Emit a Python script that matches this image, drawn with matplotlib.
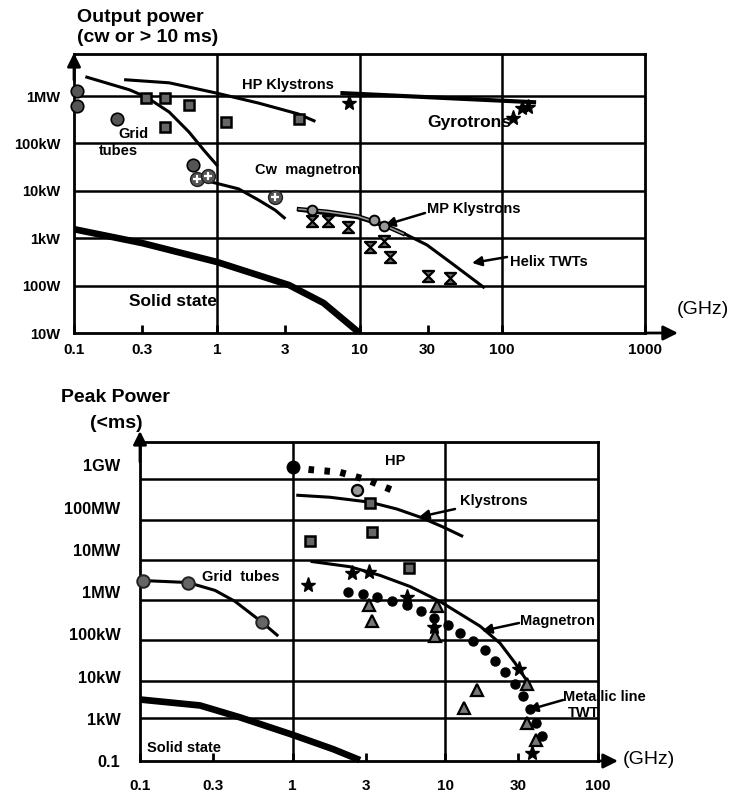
import numpy as np
import matplotlib.pyplot as plt
import matplotlib.ticker as mticker
import matplotlib.patheffects as pe
from matplotlib.path import Path

plt.rcParams['font.family'] = ['Liberation Sans', 'DejaVu Sans']

# ---------- top chart: cw output power (GHz, W) ----------
top_xticks = [0.1, 0.3, 1, 3, 10, 30, 100, 1000]
top_xlabels = ['0.1', '0.3', '1', '3', '10', '30', '100', '1000']
top_yticks = [10, 100, 1e3, 1e4, 1e5, 1e6]
top_ylabels = ['10W', '100W', '1kW', '10kW', '100kW', '1MW']

grid_tube_line_f = [0.123, 0.245, 0.321, 0.464, 0.639, 0.812, 1.0]
grid_tube_line_p = [2.5e6, 1.35e6, 9.5e5, 4.6e5, 1.74e5, 7.2e4, 3.5e4]
grid_tube_pts_f = [0.105, 0.105, 0.199, 0.68]
grid_tube_pts_p = [1.27e6, 6.2e5, 3.3e5, 3.5e4]

hp_kly_line_f = [0.23, 0.464, 1.0, 1.96, 3.71, 4.8]
hp_kly_line_p = [2.2e6, 1.9e6, 1.15e6, 7.1e5, 4.2e5, 3.0e5]
hp_kly_pts_f = [0.32, 0.435, 0.64, 0.435, 1.17, 3.77]
hp_kly_pts_p = [9.1e5, 9.1e5, 6.5e5, 2.2e5, 2.8e5, 3.3e5]

gyro_line_f = [7.6, 167]
gyro_line_p = [1.15e6, 7.4e5]
gyro_pts_f = [8.5, 119, 138, 151]
gyro_pts_p = [7.1e5, 3.5e5, 5.6e5, 5.9e5]

cw_mag_line_f = [0.726, 0.92, 1.42, 1.96, 2.57, 2.97]
cw_mag_line_p = [1.95e4, 1.53e4, 1.1e4, 6.4e3, 3.9e3, 2.7e3]
cw_mag_pts_f = [0.726, 0.866, 2.57]
cw_mag_pts_p = [1.78e4, 2.1e4, 7.4e3]

mp_kly_line_f = [3.77, 6.0, 9.7, 14.5, 20.2]
mp_kly_line_p = [4.1e3, 3.6e3, 2.9e3, 1.95e3, 1.25e3]
mp_kly_pts_f = [4.64, 12.7, 14.9]
mp_kly_pts_p = [3.9e3, 2.4e3, 1.8e3]

helix_line_f = [3.77, 9.7, 18.4, 29.7, 44, 73.8]
helix_line_p = [3.9e3, 2.7e3, 1.48e3, 720, 300, 93]
helix_pts_f = [4.64, 6.0, 8.3, 11.9, 14.9, 16.4, 30.1, 42.8]
helix_pts_p = [2.3e3, 2.3e3, 1.7e3, 650, 870, 400, 160, 145]

solid_top_f = [0.1, 0.3, 1.0, 3.2, 5.6, 10]
solid_top_p = [1.55e3, 790, 316, 103, 43, 10]

# ---------- bottom chart: peak power (GHz, W) ----------
bot_xticks = [0.1, 0.3, 1, 3, 10, 30, 100]
bot_xlabels = ['0.1', '0.3', '1', '3', '10', '30', '100']
bot_yticks = [1e9, 1e8, 1e7, 1e6, 1e5, 1e4, 1e3, 1e2]
bot_ylabels = ['1GW', '100MW', '10MW', '1MW', '100kW', '10kW', '1kW', '0.1']
bot_grid_p = [4.7e8, 5.1e7, 5.9e6, 6.5e5, 7.4e4, 7.9e3, 1.07e3]

hp_line_f = [1.0, 1.30, 2.04, 2.56, 3.16, 3.90, 4.5]
hp_line_p = [9.0e8, 8.0e8, 6.9e8, 5.5e8, 4.4e8, 3.2e8, 2.6e8]
hp_start_f, hp_start_p = [1.0], [9.0e8]
hp_gray_f, hp_gray_p = [2.64], [2.6e8]

kly_line_f = [1.08, 1.75, 3.21, 4.82, 6.82, 9.65, 12.8]
kly_line_p = [1.97e8, 1.77e8, 1.35e8, 9.3e7, 6.0e7, 3.5e7, 2.15e7]
kly_pts_f = [3.21, 3.3, 1.30, 5.78]
kly_pts_p = [1.3e8, 2.7e7, 1.64e7, 3.8e6]

mag_line_f = [1.34, 2.37, 3.73, 5.87, 9.2, 16.9, 22.8, 28.6, 35.5]
mag_line_p = [5.3e6, 4.0e6, 2.5e6, 1.36e6, 6.05e5, 1.56e5, 6.2e4, 2.1e4, 6.5e3]
star_f = [1.26, 2.44, 3.16, 5.6, 8.4, 30.3, 36.9]
star_p = [1.5e6, 2.9e6, 3.06e6, 7.5e5, 1.48e5, 1.53e4, 155]

twt_f = [2.30, 2.89, 3.56, 4.47, 5.6, 6.9, 8.4, 10.4, 12.5, 15.2, 18.2,
         21.1, 24.6, 28.6, 32.2, 35.8, 39.2, 42.9]
twt_p = [9.85e5, 8.8e5, 7.5e5, 6.05e5, 4.9e5, 3.5e5, 2.4e5, 1.65e5, 1.07e5,
         6.95e4, 4.3e4, 2.36e4, 1.3e4, 6.8e3, 3.5e3, 1.66e3, 780, 386]
tri_f = [3.16, 3.31, 8.55, 8.8, 16.1, 13.2, 34.2, 34.2, 39.2]
tri_p = [4.9e5, 2.05e5, 9.1e4, 4.6e5, 4.7e3, 1.76e3, 6.8e3, 780, 311]

grid_line_f = [0.105, 0.206, 0.31, 0.419, 0.63, 0.79]
grid_line_p = [1.88e6, 1.69e6, 1.1e6, 6.05e5, 1.94e5, 9.6e4]
grid_pts_f = [0.105, 0.206, 0.63]
grid_pts_p = [1.88e6, 1.69e6, 1.94e5]

solid_bot_f = [0.1, 0.247, 0.452, 0.975, 1.84, 2.76]
solid_bot_p = [2.86e3, 2.07e3, 1.08e3, 430, 191, 105]

# ---------- layout helpers (pixels of the 730x798 image) ----------
W, H = 730, 798
fig = plt.figure(figsize=(W / 100, H / 100), dpi=100)


def box(l, t, r, b):
    return [l / W, 1 - b / H, (r - l) / W, (b - t) / H]


def fp(x, y):
    return (x / W, 1 - y / H)


def label(x, y, s, size=10.5, ha='left', weight='bold'):
    fig.text(x / W, 1 - y / H, s, ha=ha, va='center', fontsize=size,
             fontweight=weight)


def arrow(ax, x0, y0, x1, y1, lw=1.8, ms=14):
    ax.annotate('', xy=fp(x1, y1), xytext=fp(x0, y0),
                xycoords='figure fraction', textcoords='figure fraction',
                annotation_clip=False,
                arrowprops=dict(arrowstyle='-|>', color='k', lw=lw,
                                mutation_scale=ms, shrinkA=0, shrinkB=0))


def setup(ax, xticks, xlabels, yticks, ylabels, xlim, ylim, ypad, xpad, ysize):
    ax.set_xscale('log')
    ax.set_yscale('log')
    ax.set_xlim(*xlim)
    ax.set_ylim(*ylim)
    ax.set_xticks(xticks)
    ax.set_xticklabels(xlabels, fontsize=11, fontweight='bold')
    ax.set_yticks(yticks)
    ax.set_yticklabels(ylabels, fontsize=ysize, fontweight='bold')
    ax.xaxis.set_minor_locator(mticker.NullLocator())
    ax.yaxis.set_minor_locator(mticker.NullLocator())
    ax.tick_params(axis='x', direction='in', length=6, width=2, pad=xpad)
    ax.tick_params(axis='y', length=0, pad=ypad)
    for s in ax.spines.values():
        s.set_linewidth(2)
        s.set_color('k')


hourglass = Path([(-1, 1), (1, 1), (-1, -1), (1, -1), (-1, 1)],
                 [Path.MOVETO, Path.LINETO, Path.LINETO, Path.LINETO, Path.CLOSEPOLY])

# ================= top chart =================
ax1 = fig.add_axes(box(74, 54, 645, 333))
setup(ax1, top_xticks, top_xlabels, top_yticks, top_ylabels,
      (0.1, 1000), (10, 7.7e6), ypad=10, xpad=7, ysize=10.5)
for v in top_yticks[1:]:
    ax1.axhline(v, color='k', lw=1.8, zorder=1)
for v in [1, 10, 100]:
    ax1.axvline(v, color='k', lw=1.8, zorder=1)

ax1.plot(grid_tube_line_f, grid_tube_line_p, color='k', lw=2.2, zorder=3)
ax1.plot(hp_kly_line_f, hp_kly_line_p, color='k', lw=2.2, zorder=3)
ax1.plot(gyro_line_f, gyro_line_p, color='k', lw=3, zorder=3)
ax1.plot(cw_mag_line_f, cw_mag_line_p, color='k', lw=2.2, zorder=3)
ax1.plot(helix_line_f, helix_line_p, color='k', lw=2.2, zorder=3)
ax1.plot(mp_kly_line_f, mp_kly_line_p, color='#999999', lw=1.2, zorder=3,
         path_effects=[pe.Stroke(linewidth=3.2, foreground='k'), pe.Normal()])
ax1.plot(solid_top_f, solid_top_p, color='k', lw=4.8, zorder=3,
         solid_capstyle='butt')

ax1.plot(grid_tube_pts_f, grid_tube_pts_p, 'o', ms=9, mfc='#555555', mec='k',
         mew=1.2, zorder=4, clip_on=False)
ax1.plot(hp_kly_pts_f, hp_kly_pts_p, 's', ms=7, mfc='#666666', mec='k',
         mew=1.8, zorder=4)
ax1.plot(gyro_pts_f, gyro_pts_p, '*', ms=11, color='k', zorder=4)
ax1.plot(cw_mag_pts_f, cw_mag_pts_p, 'o', ms=10, mfc='#555555', mec='#222222',
         zorder=4)
ax1.plot(cw_mag_pts_f, cw_mag_pts_p, '+', ms=6, mew=1.6, color='white', zorder=5)
ax1.plot(mp_kly_pts_f, mp_kly_pts_p, 'o', ms=7, mfc='#999999', mec='k',
         mew=1.4, zorder=4)
ax1.plot(helix_pts_f, helix_pts_p, ls='none', marker=hourglass, ms=8,
         mfc='#666666', mec='k', mew=1.6, zorder=4)

label(77, 17, 'Output power', size=14)
label(77, 38, '(cw or > 10 ms)', size=14)
label(288, 85, 'HP Klystrons', ha='center')
label(118, 134, 'Grid')
label(99, 151, 'tubes')
label(255, 170, 'Cw  magnetron')
label(427, 123, 'Gyrotrons', size=12.5)
label(427, 209, 'MP Klystrons')
label(510, 262, 'Helix TWTs')
label(129, 302, 'Solid state', size=12.5)
label(677, 310, '(GHz)', size=14, weight='normal')
arrow(ax1, 425, 213, 385, 225)
arrow(ax1, 507, 257, 472, 263)
arrow(ax1, 645, 333, 678, 333, lw=2, ms=22)
arrow(ax1, 74, 80, 74, 53, lw=2, ms=20)

# ================= bottom chart =================
ax2 = fig.add_axes(box(140, 442, 598, 761))
setup(ax2, bot_xticks, bot_xlabels, bot_yticks, bot_ylabels,
      (0.1, 100), (1e2, 3.6e9), ypad=14, xpad=13, ysize=11.8)
for v in bot_grid_p:
    ax2.axhline(v, color='k', lw=1.8, zorder=1)
for v in [1, 10]:
    ax2.axvline(v, color='k', lw=1.8, zorder=1)

ax2.plot(hp_line_f, hp_line_p, color='k', lw=5, ls=(0, (0.8, 1.5)),
         dash_capstyle='butt', zorder=3)
ax2.plot(hp_start_f, hp_start_p, 'o', ms=9, color='k', zorder=4, clip_on=False)
ax2.plot(hp_gray_f, hp_gray_p, 'o', ms=8, mfc='#999999', mec='k', mew=1.6,
         zorder=4)
ax2.plot(kly_line_f, kly_line_p, color='k', lw=2.2, zorder=3)
ax2.plot(kly_pts_f, kly_pts_p, 's', ms=7, mfc='#666666', mec='k', mew=1.8,
         zorder=4)
ax2.plot(mag_line_f, mag_line_p, color='k', lw=2.2, zorder=3)
ax2.plot(twt_f, twt_p, 'o', ms=6.5, color='k', zorder=4)
ax2.plot(tri_f, tri_p, '^', ms=9, mfc='#777777', mec='k', mew=1.6, zorder=4)
ax2.plot(star_f, star_p, '*', ms=11, color='k', zorder=5, clip_on=False)
ax2.plot(grid_line_f, grid_line_p, color='k', lw=2.2, zorder=3)
ax2.plot(grid_pts_f, grid_pts_p, 'o', ms=9, mfc='#666666', mec='#222222',
         mew=1.4, zorder=4, clip_on=False)
ax2.plot(solid_bot_f, solid_bot_p, color='k', lw=4.8, zorder=3,
         solid_capstyle='butt', clip_on=False)

label(61, 398, 'Peak Power', size=14)
label(90, 423, '(<ms)', size=14)
label(395, 461, 'HP', ha='center')
label(460, 501, 'Klystrons')
label(202, 577, 'Grid  tubes')
label(520, 621, 'Magnetron')
label(563, 697, 'Metallic line')
label(568, 713, 'TWT')
label(147, 748, 'Solid state')
label(623, 760, '(GHz)', size=14, weight='normal')
arrow(ax2, 455, 509, 419, 517)
arrow(ax2, 519, 623, 482, 631)
arrow(ax2, 563, 700, 528, 710)
arrow(ax2, 598, 761, 618, 761, lw=2, ms=22)
arrow(ax2, 140, 462, 140, 431, lw=2, ms=20)

fig.savefig('out.png', dpi=100)
